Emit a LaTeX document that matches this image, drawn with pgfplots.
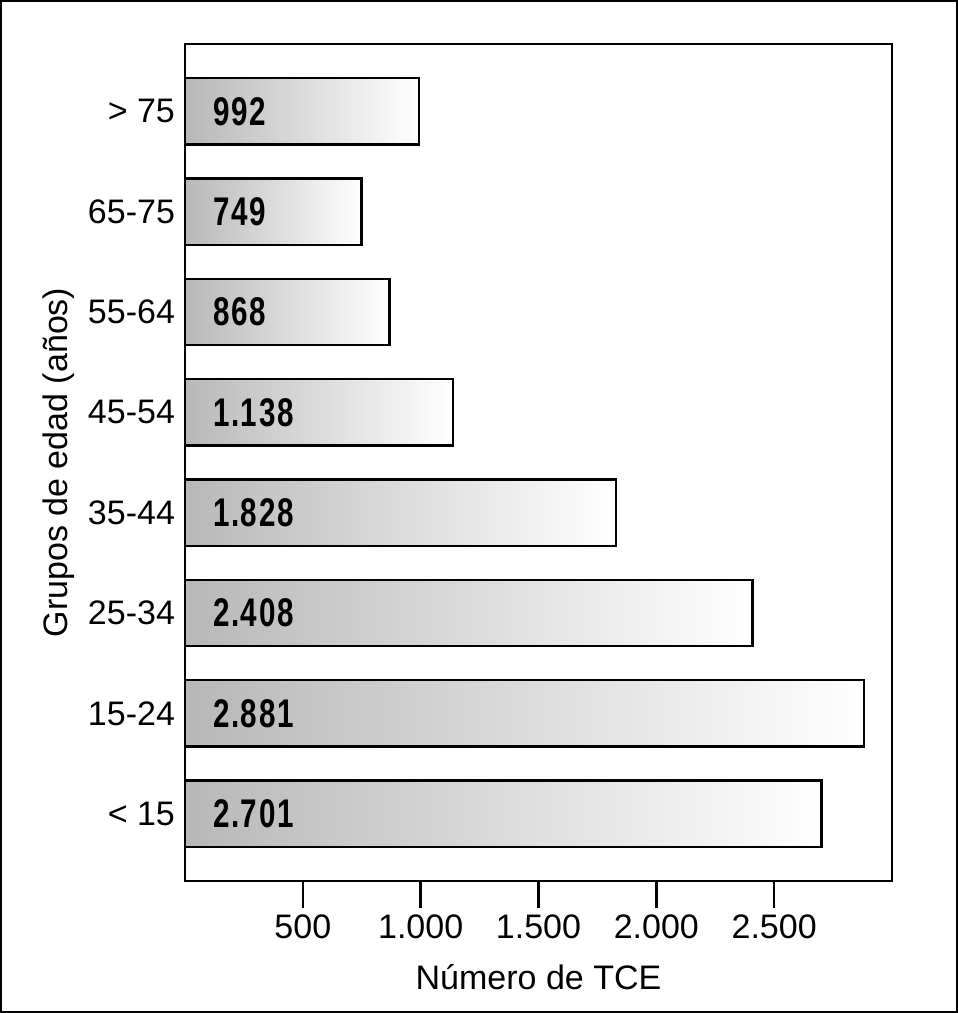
\documentclass[border=0pt]{standalone}
\usepackage{pgfplots}
\pgfplotsset{compat=1.18}
\usepackage{pgfplotstable}
\usepackage{fontspec}
\setmainfont{Liberation Sans}
\newfontfamily\condfont[FakeStretch=0.74, LetterSpace=4]{Liberation Sans}
\pgfplotstableread{
pos value label
0 2701 2.701
1 2881 2.881
2 2408 2.408
3 1828 1.828
4 1138 1.138
5 868 868
6 749 749
7 992 992
}\datatable
\pgfplotsset{gbar/.style={xbar, bar shift=0pt, bar width=0.66, draw=black, line width=1.2pt,
  left color=black!28, right color=white}}
\begin{document}
\begin{tikzpicture}
\useasboundingbox (0,0) rectangle (479pt,506.5pt);
\draw[line width=1.2pt] (0.6pt,0.6pt) rectangle (478.4pt,505.9pt);
\begin{axis}[
  at={(92.5pt,66pt)}, anchor=south west,
  scale only axis, width=353.5pt, height=418.5pt,
  xmin=0, xmax=3000, ymin=-0.67, ymax=7.67,
  axis line style={line width=1.3pt},
  xtick={500,1000,1500,2000,2500},
  xticklabels={500,1.000,1.500,2.000,2.500},
  xtick pos=bottom, tick align=outside,
  major tick length=13.5pt,
  x tick style={line width=1.2pt, black},
  ytick={0,1,2,3,4,5,6,7},
  yticklabels={< 15,15-24,25-34,35-44,45-54,55-64,65-75,> 75},
  y tick style={draw=none},
  y tick label style={xshift=12pt},
  ytick pos=left,
  tick label style={font=\fontsize{17}{20}\selectfont},
  label style={font=\fontsize{17}{20}\selectfont},
  xlabel={Número de TCE},
  xlabel style={yshift=-6pt},
  ylabel={Grupos de edad (años)},
  clip=false,
]
\addplot[gbar] coordinates {(2701,0)};
\addplot[gbar] coordinates {(2881,1)};
\addplot[gbar] coordinates {(2408,2)};
\addplot[gbar] coordinates {(1828,3)};
\addplot[gbar] coordinates {(1138,4)};
\addplot[gbar] coordinates {(868,5)};
\addplot[gbar] coordinates {(749,6)};
\addplot[gbar] coordinates {(992,7)};
\addplot[only marks, mark=none, nodes near coords,
  point meta=explicit symbolic,
  every node near coord/.style={anchor=west, xshift=10.5pt,
    font=\condfont\bfseries\fontsize{20}{23}\selectfont, text=black}]
  table[x expr=0, y=pos, meta=label] {\datatable};
\end{axis}
\end{tikzpicture}
\end{document}
